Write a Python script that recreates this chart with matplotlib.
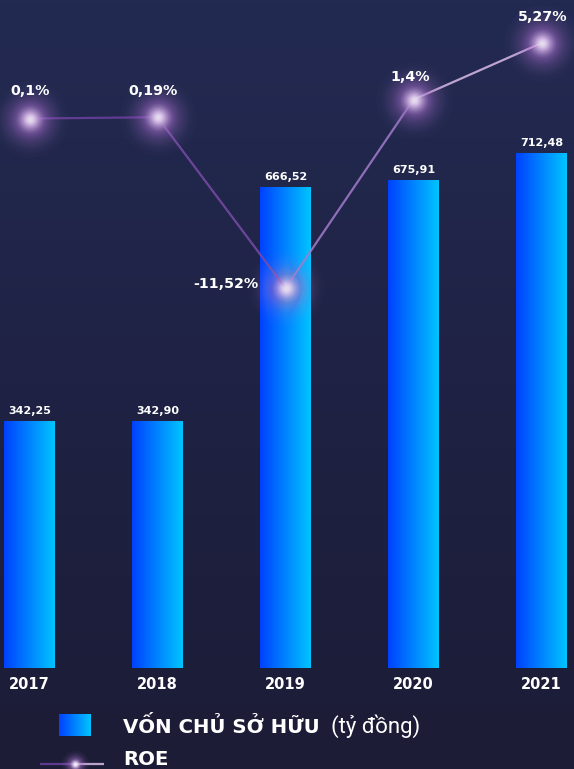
import numpy as np
import matplotlib.pyplot as plt
from matplotlib.collections import LineCollection
from matplotlib.colors import LinearSegmentedColormap

years = ['2017', '2018', '2019', '2020', '2021']
equity = [342.25, 342.90, 666.52, 675.91, 712.48]
equity_labels = ['342,25', '342,90', '666,52', '675,91', '712,48']
roe = [0.1, 0.19, -11.52, 1.4, 5.27]
roe_labels = ['0,1%', '0,19%', '-11,52%', '1,4%', '5,27%']

FONT = ['DejaVu Sans']
W, H = 574, 769

bar_cmap = LinearSegmentedColormap.from_list('bar', ['#0042ff', '#00c4ff'])
bg_cmap = LinearSegmentedColormap.from_list('bg', ['#1c1c36', '#1f2244', '#232a52'])


def glow_radii(sigma, omax, a, n_max=300):
    # radii of stacked translucent discs giving a soft gaussian-like falloff
    radii = []
    for i in range(1, n_max):
        o = 1 - (1 - a) ** i
        if o >= omax:
            break
        radii.append(sigma * np.sqrt(np.log(omax / o)))
    return radii


def glow(axis, xs, ys, sigma, omax, color, a=0.03, z=4):
    for r in glow_radii(sigma, omax, a):
        axis.scatter(xs, ys, s=(2 * r / 1.389) ** 2, color=color, alpha=a, lw=0, zorder=z)


fig = plt.figure(figsize=(W / 100, H / 100), dpi=100)

# background
bg = fig.add_axes([0, 0, 1, 1])
bg.imshow(np.linspace(0, 1, 256)[::-1].reshape(-1, 1), cmap=bg_cmap,
          aspect='auto', extent=[0, 1, 0, 1])
bg.axis('off')
bg.set_zorder(-10)

bottom_px = 668.5
ax = fig.add_axes([0, (H - bottom_px) / H, 1, bottom_px / H])
ax.patch.set_alpha(0)
x = np.arange(len(years))

bars = ax.bar(x, equity, width=51 / 128, color='none')
grad = np.linspace(0, 1, 64).reshape(1, -1)
for b, lab in zip(bars, equity_labels):
    x0, w, h = b.get_x(), b.get_width(), b.get_height()
    im = ax.imshow(grad, cmap=bar_cmap, aspect='auto',
                   extent=[x0, x0 + w, 0, h], zorder=2)
    im.set_clip_path(b)
    ax.annotate(lab, (x0 + w / 2, h), xytext=(0, 5), textcoords='offset pixels',
                ha='center', va='bottom', color='white', fontsize=8,
                fontweight='bold', family=FONT)

ax.set_xlim(-29.5 / 128, (W - 29.5) / 128)
ax.set_ylim(0, bottom_px / 0.723)
ax.set_xticks(x)
ax.set_xticklabels(years, color='white', fontsize=10.5, fontweight='bold', family=FONT)
ax.tick_params(axis='x', length=0, pad=6)
ax.set_yticks([])
for s in ax.spines.values():
    s.set_visible(False)

# ROE line on twin axis
ax2 = ax.twinx()
ax2.set_ylim((120 - bottom_px) / 14.6, 120 / 14.6)
ax2.set_yticks([])
for s in ax2.spines.values():
    s.set_visible(False)

pts = np.column_stack([x, roe])
segs = np.stack([pts[:-1], pts[1:]], axis=1)
seg_colors = ['#6b3f9e', '#7a4aa8', '#a27ccb', '#d9bce8']
ax2.add_collection(LineCollection(segs, colors=seg_colors, linewidths=1.6,
                                  alpha=0.85, zorder=3))

glow(ax2, x, roe, 20, 0.95, '#b786dc', a=0.025, z=4)
glow(ax2, x, roe, 8, 0.97, '#f6edff', a=0.05, z=5)

offsets = [(1, 28), (-4, 26), (-27, 4), (-3, 23), (1, 26)]
has = ['center', 'center', 'right', 'center', 'center']
for xi, v, lab, off, ha in zip(x, roe, roe_labels, offsets, has):
    ax2.annotate(lab, (xi, v), xytext=off, textcoords='offset pixels',
                 ha=ha, va='center', color='white', fontsize=10.3,
                 fontweight='bold', family=FONT, zorder=6)

# legend
lg = fig.add_axes([59 / W, (H - 736) / H, 32 / W, 22 / H])
lg.imshow(grad, cmap=bar_cmap, aspect='auto')
lg.axis('off')
fig.text(123 / W, (H - 733) / H, 'VỐN CHỦ SỞ HỮU', color='white', fontsize=14.2,
         fontweight='bold', family=FONT, va='baseline')
fig.text(331 / W, (H - 733) / H, '(tỷ đồng)', color='white', fontsize=16,
         fontweight='normal', family=['Roboto', 'DejaVu Sans'], va='baseline')

lx = fig.add_axes([0, 0, 1, 1])
lx.set_xlim(0, W)
lx.set_ylim(H, 0)
lx.axis('off')
lx.patch.set_alpha(0)
lx.add_collection(LineCollection([[(40, 764), (75, 764)], [(75, 764), (104, 764)]],
                                 colors=['#6b3f9e', '#d9bce8'], linewidths=1.6, alpha=0.85))
glow(lx, [75], [764], 8, 0.85, '#b786dc', a=0.04)
glow(lx, [75], [764], 3.5, 0.95, 'white', a=0.1, z=5)
fig.text(123 / W, (H - 765) / H, 'ROE', color='white', fontsize=14.2,
         fontweight='bold', family=FONT, va='baseline')

fig.savefig('out.png', dpi=100)
